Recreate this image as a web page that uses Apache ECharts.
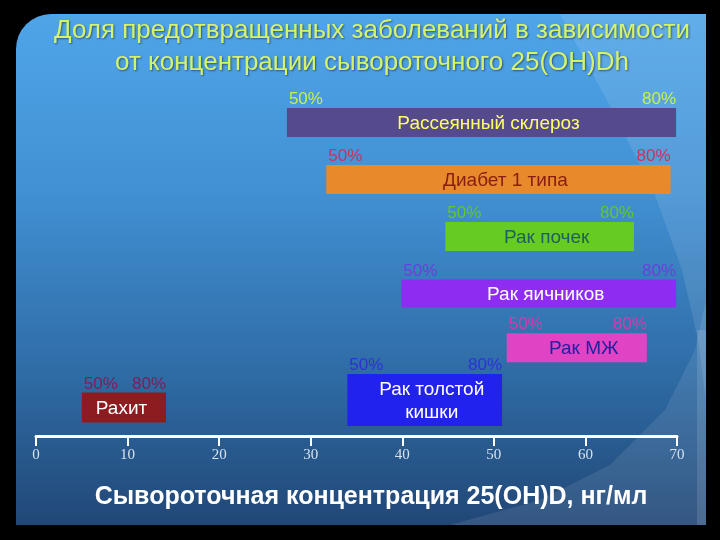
<!DOCTYPE html>
<html>
<head>
<meta charset="utf-8">
<script src="https://cdn.jsdelivr.net/npm/echarts@6/dist/echarts.min.js"></script>
<style>
  html, body { margin: 0; padding: 0; background: #000; }
  #main { width: 720px; height: 540px; }
</style>
</head>
<body>
<div id="main"></div>
<script>
// 数据
const categories = ['Рассеянный склероз', 'Диабет 1 типа', 'Рак почек', 'Рак яичников', 'Рак МЖ', 'Рак толстой\nкишки', 'Рахит'];
const startValues = [27.4, 31.7, 44.7, 39.9, 51.4, 34.0, 5.0];
const endValues = [69.9, 69.3, 65.3, 69.9, 66.7, 50.9, 14.2];
const rowValues = [0, 1, 2, 3, 3.95, 4.87, 5];
const lowPct = ['50%', '50%', '50%', '50%', '50%', '50%', '50%'];
const highPct = ['80%', '80%', '80%', '80%', '80%', '80%', '80%'];

// 样式
const barColors = ['#554b8c', '#e8892c', '#66cc22', '#8e2cf2', '#e043c4', '#2222ee', '#8c1c20'];
const nameColors = ['#ffff66', '#8a1c10', '#1f5f5f', '#ffffff', '#2222a0', '#ffffff', '#ffffff'];
const pctColors = ['#c6f04a', '#c8345a', '#62c828', '#6a40dc', '#d23cae', '#2a32d8', '#7c2058'];
const barHeights = [29, 29, 29, 28, 29, 52, 30];
const nameAlign = ['center', 'center', 'center', 'center', 'center', 'center', 'left'];

let myChart = echarts.init(document.getElementById('main'));

let option = {
  backgroundColor: '#000',
  title: {
    text: 'Доля предотвращенных заболеваний в зависимости\nот концентрации сывороточного 25(OH)Dh',
    left: 367,
    top: 10,
    textAlign: 'center',
    textStyle: {
      fontFamily: '"Liberation Sans", Arial, sans-serif',
      fontWeight: 'normal',
      fontSize: 26,
      lineHeight: 32,
      color: '#d6f26c',
      textShadowColor: 'rgba(0,0,0,0.45)',
      textShadowBlur: 2,
      textShadowOffsetX: 1,
      textShadowOffsetY: 1
    }
  },
  //背景
  graphic: [
    {
      type: 'rect',
      z: -10,
      silent: true,
      shape: { x: 16, y: 14, width: 690, height: 511, r: [35, 0, 0, 0] },
      style: {
        fill: new echarts.graphic.LinearGradient(0, 0, 0, 1, [
          { offset: 0, color: '#4fa5e9' },
          { offset: 0.35, color: '#4190d3' },
          { offset: 0.7, color: '#2f6ca6' },
          { offset: 1, color: '#214776' }
        ])
      }
    },
    {
      // 右上浅色
      type: 'polygon',
      z: -9,
      silent: true,
      shape: { points: [[560, 14], [706, 14], [706, 400], [698, 340], [682, 270], [655, 195], [615, 115]] },
      style: { fill: 'rgba(255,255,255,0.1)' }
    },
    {
      // 右下浅色
      type: 'polygon',
      z: -9,
      silent: true,
      shape: { points: [[450, 525], [540, 500], [610, 465], [665, 410], [695, 350], [706, 300], [706, 525]] },
      style: { fill: 'rgba(255,255,255,0.09)' }
    },
    {
      type: 'rect',
      z: -9,
      silent: true,
      shape: { x: 697, y: 330, width: 9, height: 195 },
      style: { fill: 'rgba(255,255,255,0.12)' }
    },
    {
      type: 'text',
      x: 371,
      y: 497,
      silent: true,
      style: {
        text: 'Сывороточная концентрация 25(OH)D, нг/мл',
        font: 'bold 25px "Liberation Sans", Arial, sans-serif',
        fill: '#ffffff',
        align: 'center',
        verticalAlign: 'middle'
      }
    }
  ],
  grid: {
    left: 36,
    right: 43,
    top: 94,
    bottom: 104
  },
  //X轴
  xAxis: {
    type: 'value',
    min: 0,
    max: 70,
    interval: 10,
    splitLine: { show: false },
    axisLine: {
      show: true,
      onZero: false,
      lineStyle: { color: '#ffffff', width: 3 }
    },
    axisTick: {
      show: true,
      length: 10,
      lineStyle: { color: '#ffffff', width: 2 }
    },
    axisLabel: {
      margin: 12,
      fontFamily: '"Liberation Serif", "Times New Roman", serif',
      fontSize: 15,
      color: '#d6e2ef'
    }
  },
  //Y轴
  yAxis: {
    type: 'value',
    min: -0.5,
    max: 5.5,
    inverse: true,
    show: false
  },
  series: [
    {
      type: 'custom',
      encode: { x: [0, 1], y: 2 },
      data: categories.map((name, i) => [startValues[i], endValues[i], rowValues[i], i]),
      renderItem: function (params, api) {
        const i = api.value(3);
        const p0 = api.coord([api.value(0), api.value(2)]);
        const p1 = api.coord([api.value(1), api.value(2)]);
        const h = barHeights[i];
        const top = p0[1] - h / 2;
        const pctFont = '17px "Liberation Sans", Arial, sans-serif';
        // 文字略偏右
        const nameX = nameAlign[i] === 'left' ? p0[0] + 14 : (p0[0] + p1[0]) / 2 + 7;
        return {
          type: 'group',
          children: [
            {
              type: 'rect',
              shape: { x: p0[0], y: top, width: p1[0] - p0[0], height: h },
              style: { fill: barColors[i] }
            },
            {
              type: 'text',
              x: nameX,
              y: p0[1] + 1,
              style: {
                text: categories[i],
                fill: nameColors[i],
                font: '19px "Liberation Sans", Arial, sans-serif',
                lineHeight: 23,
                align: nameAlign[i],
                verticalAlign: 'middle'
              }
            },
            {
              type: 'text',
              x: p0[0] + 2,
              y: top,
              style: {
                text: lowPct[i],
                fill: pctColors[i],
                font: pctFont,
                align: 'left',
                verticalAlign: 'bottom'
              }
            },
            {
              type: 'text',
              x: p1[0],
              y: top,
              style: {
                text: highPct[i],
                fill: pctColors[i],
                font: pctFont,
                align: 'right',
                verticalAlign: 'bottom'
              }
            }
          ]
        };
      }
    }
  ]
};

myChart.setOption(option);
</script>
</body>
</html>
